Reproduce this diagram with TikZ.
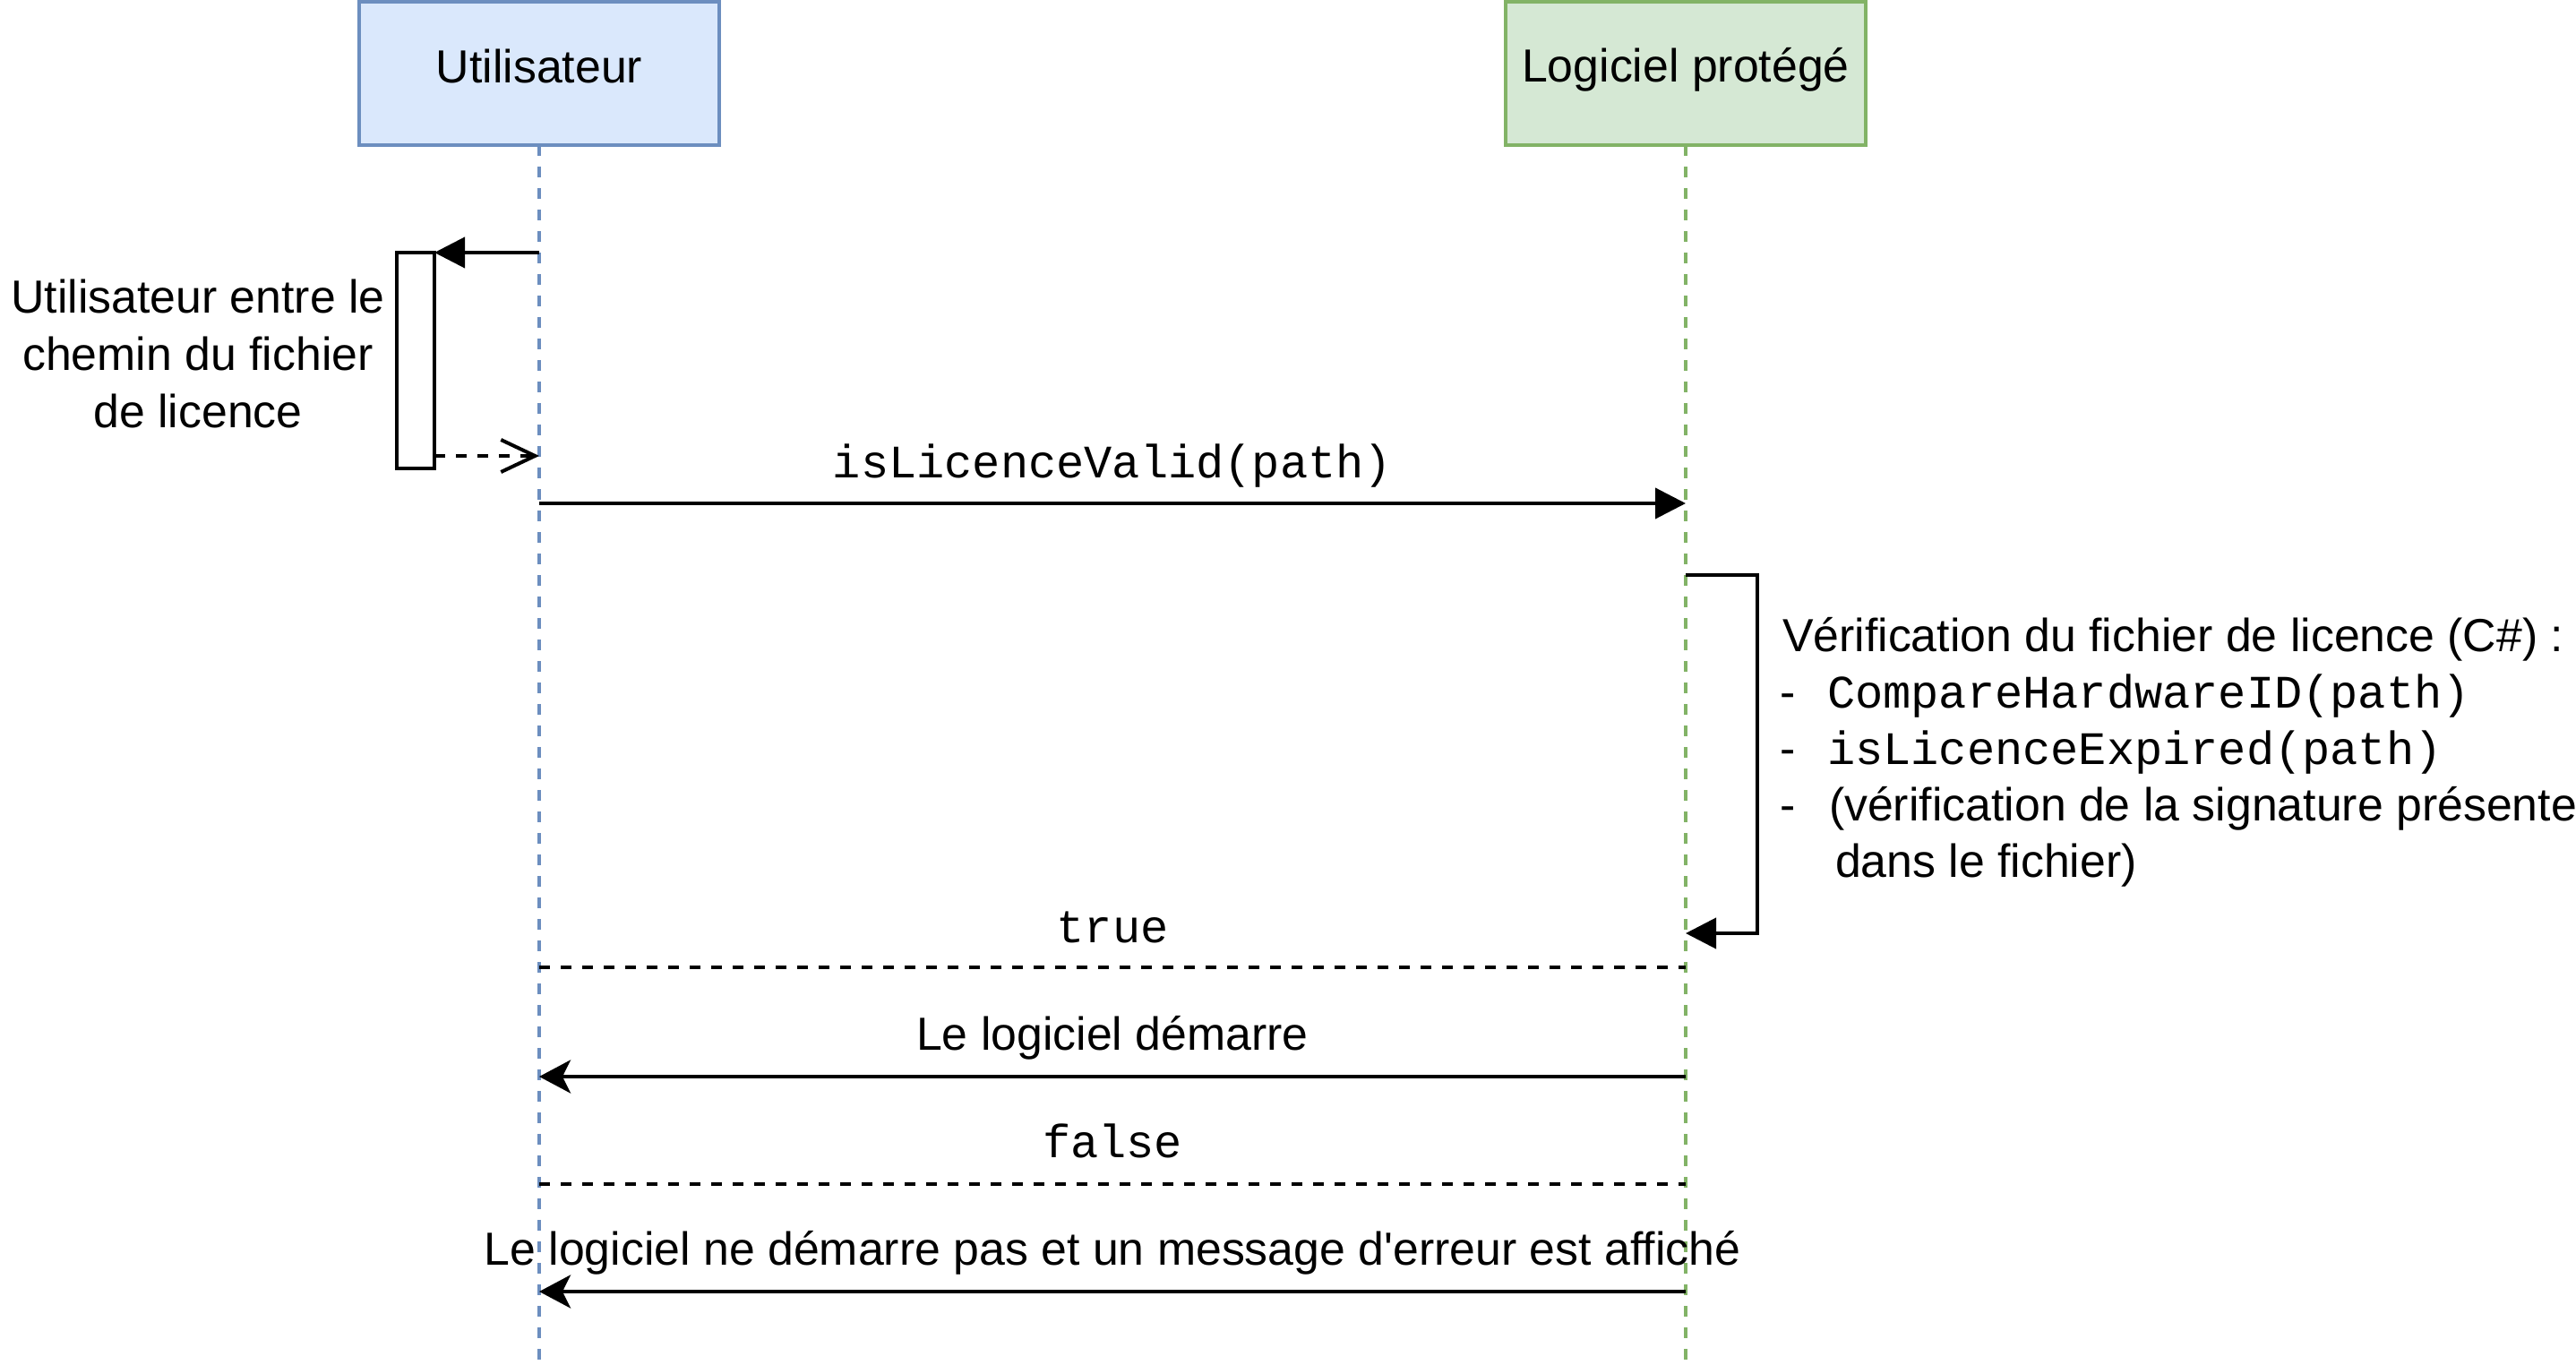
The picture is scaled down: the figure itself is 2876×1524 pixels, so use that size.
\documentclass[tikz,border=0pt]{standalone}
\usepackage{fontspec}
\setmainfont{Liberation Sans}[Ligatures=TeXOff]
\setmonofont{Liberation Mono}
\usetikzlibrary{arrows.meta}
\definecolor{ublue}{HTML}{6C8EBF}
\definecolor{ubluefill}{HTML}{DAE8FC}
\definecolor{lgreen}{HTML}{82B366}
\definecolor{lgreenfill}{HTML}{D5E8D4}
\begin{document}
\begin{tikzpicture}[x=0.5pt,y=-0.5pt,
  every node/.style={font=\fontsize{25.9pt}{32pt}\selectfont, inner sep=0pt, outer sep=0pt},
  headbox/.style={draw, line width=2pt, minimum width=201pt, minimum height=80pt},
  lifeline/.style={line width=2pt, dash pattern=on 6pt off 6pt},
  syncmsg/.style={line width=2pt, -{Triangle[length=17pt,width=17pt]}},
  classicmsg/.style={line width=2pt, -{Stealth[length=17.5pt,width=18.5pt,inset=4.5pt]}},
  retmsg/.style={line width=2pt, dash pattern=on 6pt off 6pt, -{Straight Barb[length=19pt,width=18pt]}},
  dashmsg/.style={line width=2pt, dash pattern=on 6pt off 6pt},
  lbl/.style={anchor=base},
  mono/.style={font=\fontsize{26pt}{32pt}\ttfamily}
]
\useasboundingbox (0,0) rectangle (2876,1524);

% heads
\node[headbox, draw=ublue, fill=ubluefill] (uh) at (602,82) {};
\node[lbl] (ut) at (602,93) {Utilisateur};
\node[headbox, draw=lgreen, fill=lgreenfill] (lh) at (1882,82) {};
\node[lbl] (lt) at (1882,92) {Logiciel protégé};

% lifelines
\coordinate (ubot) at (602,1524);
\coordinate (lbot) at (1882,1524);
\draw[lifeline, ublue] (uh.south) -- (ubot);
\draw[lifeline, lgreen] (lh.south) -- (lbot);

% activation box
\node[draw, line width=2pt, fill=white, minimum width=21pt, minimum height=120.5pt] (act) at (464,402.5) {};
\coordinate (u282) at (602,282);
\draw[syncmsg] (u282) -- (act.north east);
\coordinate (a509) at (485,509);
\coordinate (u509) at (602,509);
\draw[retmsg] (a509) -- (u509);
\node[lbl] (n1a) at (221,350) {Utilisateur entre le};
\node[lbl] (n1b) at (221,414) {chemin du fichier};
\node[lbl] (n1c) at (221,478) {de licence};

% isLicenceValid
\coordinate (u562) at (602,562);
\coordinate (l562) at (1882,562);
\draw[syncmsg] (u562) -- (l562);
\node[lbl, mono] (m1) at (1242,533) {isLicenceValid(path)};

% self call
\coordinate (l642) at (1882,642);
\coordinate (r642) at (1962,642);
\coordinate (r1042) at (1962,1042);
\coordinate (l1042) at (1882,1042);
\draw[syncmsg] (l642) -- (r642) -- (r1042) -- (l1042);
\node[anchor=base west] (v1) at (1990,727) {Vérification du fichier de licence (C\#) :};
\node[anchor=base west] (v2d) at (1987,790) {-};
\node[anchor=base west, mono] (v2) at (2040,790) {CompareHardwareID(path)};
\node[anchor=base west] (v3d) at (1987,853) {-};
\node[anchor=base west, mono] (v3) at (2040,853) {isLicenceExpired(path)};
\node[anchor=base west] (v4d) at (1987,916) {-};
\node[anchor=base west] (v4) at (2042,916) {(vérification de la signature présente};
\node[anchor=base west] (v5) at (2049,979) {dans le fichier)};

% true
\coordinate (u1080) at (602,1080);
\coordinate (l1080) at (1882,1080);
\draw[dashmsg] (u1080) -- (l1080);
\node[lbl, mono] (m2) at (1242,1052) {true};

% Le logiciel démarre
\coordinate (l1202) at (1882,1202);
\coordinate (u1202) at (602,1202);
\draw[classicmsg] (l1202) -- (u1202);
\node[lbl] (m3) at (1242,1172) {Le logiciel démarre};

% false
\coordinate (u1322) at (602,1322);
\coordinate (l1322) at (1882,1322);
\draw[dashmsg] (u1322) -- (l1322);
\node[lbl, mono] (m4) at (1242,1292) {false};

% error
\coordinate (l1442) at (1882,1442);
\coordinate (u1442) at (602,1442);
\draw[classicmsg] (l1442) -- (u1442);
\node[lbl] (m5) at (1242,1412) {Le logiciel ne démarre pas et un message d'erreur est affiché};
\end{tikzpicture}
\end{document}
